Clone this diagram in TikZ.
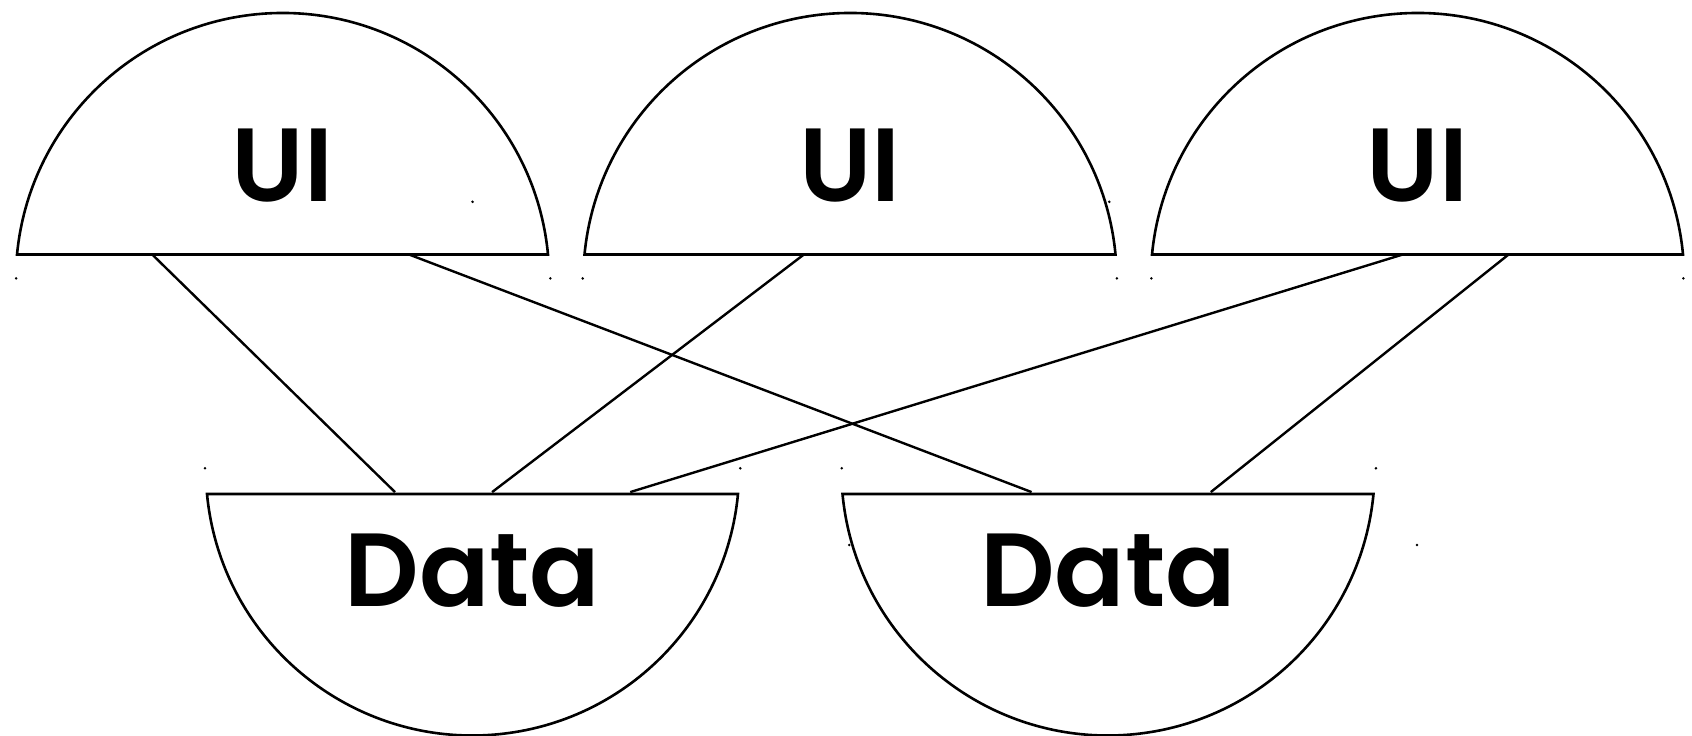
\documentclass[tikz,border=0pt]{standalone}
\usepackage{fontspec}
\newfontfamily\lblfont{Poppins SemiBold}
\begin{document}
\begin{tikzpicture}[x=1pt,y=1pt,
  bowl/.style={line width=2.6pt, line join=miter},
  link/.style={line width=2.4pt},
  lbl/.style={font=\lblfont\fontsize{104}{110}\selectfont, anchor=base, inner sep=0pt},
  speck/.style={fill=black, circle, inner sep=0pt, minimum size=2.8pt}
]
\useasboundingbox (0,0) rectangle (1692,736);
\def\R{266.7}
\def\A{265.5}
% upper segments (UI)
\foreach \n/\cx in {ui1/282.5, ui2/850, ui3/1417.5}{
  \draw[bowl] (\cx+\A,481.5) arc[start angle=5.42,end angle=174.58,radius=\R] -- cycle;
  \node[lbl] (\n) at (\cx,534.2) {UI};
}
% lower segments (Data)
\foreach \n/\cx in {data1/472.5, data2/1108}{
  \draw[bowl] (\cx-\A,242) arc[start angle=185.42,end angle=354.58,radius=\R] -- cycle;
  \node[lbl] (\n) at (\cx,129.5) {Data};
}
% connector ends
\coordinate (u1a) at (152.2,481.5);
\coordinate (u1b) at (409.0,481.5);
\coordinate (u2a) at (803.9,481.5);
\coordinate (u3a) at (1402.8,481.5);
\coordinate (u3b) at (1508.6,481.5);
\coordinate (d1a) at (395.0,243.9);
\coordinate (d1b) at (492.1,243.9);
\coordinate (d1c) at (630.2,243.9);
\coordinate (d2a) at (1031.6,243.9);
\coordinate (d2b) at (1210.8,243.9);
\draw[link] (u1a) -- (d1a);
\draw[link] (u1b) -- (d2a);
\draw[link] (u2a) -- (d1b);
\draw[link] (u3a) -- (d1c);
\draw[link] (u3b) -- (d2b);
% small marks
\foreach \p in {(16.2,457.6),(550.3,457.6),(582.7,457.6),(1116.9,457.6),(1151.4,457.6),(1683.4,457.6),
  (472.6,534.2),(1109.3,534.2),
  (205.0,267.7),(740.3,267.7),(841.7,267.7),(1375.9,267.7),
  (849.3,191.0),(1416.9,191.0)}
  \node[speck] at \p {};
\end{tikzpicture}
\end{document}
